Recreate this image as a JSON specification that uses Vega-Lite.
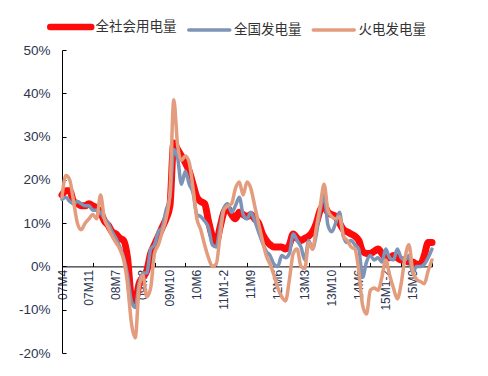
{
  "$schema": "https://vega.github.io/schema/vega-lite/v6.json",
  "width": 370,
  "height": 303,
  "autosize": {"type": "none"},
  "padding": {"left": 62, "top": 50, "right": 56, "bottom": 23},
  "background": "white",
  "config": {"view": {"stroke": null}},
  "data": {"values": [
    {"月份": "07M4", "全社会用电量": 16.5, "全国发电量": 15.5, "火电发电量": 16},
    {"月份": "07M5", "全社会用电量": 17.5, "全国发电量": 16, "火电发电量": 21},
    {"月份": "07M6", "全社会用电量": 17.5, "全国发电量": 15, "火电发电量": 20},
    {"月份": "07M7", "全社会用电量": 15, "全国发电量": 14.5, "火电发电量": 15},
    {"月份": "07M8", "全社会用电量": 14.5, "全国发电量": 15, "火电发电量": 10},
    {"月份": "07M9", "全社会用电量": 14, "全国发电量": 14.5, "火电发电量": 8.5},
    {"月份": "07M10", "全社会用电量": 14, "全国发电量": 14, "火电发电量": 10},
    {"月份": "07M11", "全社会用电量": 14.5, "全国发电量": 14, "火电发电量": 11},
    {"月份": "07M12", "全社会用电量": 14, "全国发电量": 13, "火电发电量": 12},
    {"月份": "08M1-2", "全社会用电量": 13.5, "全国发电量": 13, "火电发电量": 11},
    {"月份": "08M3", "全社会用电量": 12.5, "全国发电量": 12.5, "火电发电量": 16.5},
    {"月份": "08M4", "全社会用电量": 10.5, "全国发电量": 11, "火电发电量": 11},
    {"月份": "08M5", "全社会用电量": 9.5, "全国发电量": 10, "火电发电量": 9},
    {"月份": "08M6", "全社会用电量": 8, "全国发电量": 8, "火电发电量": 7},
    {"月份": "08M7", "全社会用电量": 7.5, "全国发电量": 6.5, "火电发电量": 5.5},
    {"月份": "08M8", "全社会用电量": 6.5, "全国发电量": 4.5, "火电发电量": 4},
    {"月份": "08M9", "全社会用电量": 6, "全国发电量": 2, "火电发电量": 1.5},
    {"月份": "08M10", "全社会用电量": 2, "全国发电量": -2, "火电发电量": -4},
    {"月份": "08M11", "全社会用电量": -7, "全国发电量": -8, "火电发电量": -13},
    {"月份": "08M12", "全社会用电量": -8, "全国发电量": -9.5, "火电发电量": -16.5},
    {"月份": "09M1-2", "全社会用电量": -4, "全国发电量": -4, "火电发电量": -5},
    {"月份": "09M3", "全社会用电量": -2.5, "全国发电量": -1.5, "火电发电量": -2},
    {"月份": "09M4", "全社会用电量": -1, "全国发电量": -1.5, "火电发电量": -7},
    {"月份": "09M5", "全社会用电量": 3, "全国发电量": 4, "火电发电量": -5},
    {"月份": "09M6", "全社会用电量": 5, "全国发电量": 5, "火电发电量": 3},
    {"月份": "09M7", "全社会用电量": 7, "全国发电量": 8, "火电发电量": 5},
    {"月份": "09M8", "全社会用电量": 9, "全国发电量": 9, "火电发电量": 8},
    {"月份": "09M9", "全社会用电量": 11, "全国发电量": 13, "火电发电量": 11},
    {"月份": "09M10", "全社会用电量": 14, "全国发电量": 16, "火电发电量": 17},
    {"月份": "09M11", "全社会用电量": 28.5, "全国发电量": 27, "火电发电量": 38.5},
    {"月份": "09M12", "全社会用电量": 27, "全国发电量": 25, "火电发电量": 28},
    {"月份": "10M1-2", "全社会用电量": 25.5, "全国发电量": 19, "火电发电量": 24.5},
    {"月份": "10M3", "全社会用电量": 24, "全国发电量": 22, "火电发电量": 25.5},
    {"月份": "10M4", "全社会用电量": 22, "全国发电量": 19, "火电发电量": 24},
    {"月份": "10M5", "全社会用电量": 19, "全国发电量": 17, "火电发电量": 18},
    {"月份": "10M6", "全社会用电量": 16, "全国发电量": 12, "火电发电量": 11},
    {"月份": "10M7", "全社会用电量": 15, "全国发电量": 11.5, "火电发电量": 8.5},
    {"月份": "10M8", "全社会用电量": 14.5, "全国发电量": 10.5, "火电发电量": 5},
    {"月份": "10M9", "全社会用电量": 10.5, "全国发电量": 9, "火电发电量": 2},
    {"月份": "10M10", "全社会用电量": 7, "全国发电量": 5, "火电发电量": 0},
    {"月份": "10M11", "全社会用电量": 5.5, "全国发电量": 4.5, "火电发电量": 0.5},
    {"月份": "10M12", "全社会用电量": 9, "全国发电量": 9, "火电发电量": 7},
    {"月份": "11M1-2", "全社会用电量": 12.5, "全国发电量": 13.5, "火电发电量": 13},
    {"月份": "11M3", "全社会用电量": 13.5, "全国发电量": 14.5, "火电发电量": 14},
    {"月份": "11M4", "全社会用电量": 12, "全国发电量": 12.5, "火电发电量": 14.5},
    {"月份": "11M5", "全社会用电量": 11, "全国发电量": 14, "火电发电量": 18},
    {"月份": "11M6", "全社会用电量": 12.5, "全国发电量": 16, "火电发电量": 19.5},
    {"月份": "11M7", "全社会用电量": 12, "全国发电量": 12, "火电发电量": 16.5},
    {"月份": "11M8", "全社会用电量": 11.5, "全国发电量": 11, "火电发电量": 19.5},
    {"月份": "11M9", "全社会用电量": 12, "全国发电量": 12.5, "火电发电量": 18},
    {"月份": "11M10", "全社会用电量": 11, "全国发电量": 10.5, "火电发电量": 14},
    {"月份": "11M11", "全社会用电量": 10, "全国发电量": 8, "火电发电量": 10},
    {"月份": "11M12", "全社会用电量": 7.5, "全国发电量": 5.5, "火电发电量": 6},
    {"月份": "12M3", "全社会用电量": 6, "全国发电量": 3.5, "火电发电量": 2.5},
    {"月份": "12M4", "全社会用电量": 5, "全国发电量": 2.5, "火电发电量": 0.5},
    {"月份": "12M5", "全社会用电量": 4.5, "全国发电量": 0.5, "火电发电量": -2},
    {"月份": "12M6", "全社会用电量": 4.5, "全国发电量": 0, "火电发电量": -5},
    {"月份": "12M7", "全社会用电量": 4.5, "全国发电量": 2.5, "火电发电量": -7},
    {"月份": "12M8", "全社会用电量": 4, "全国发电量": 2, "火电发电量": -8},
    {"月份": "12M9", "全社会用电量": 5, "全国发电量": 3, "火电发电量": -3},
    {"月份": "12M10", "全社会用电量": 7.5, "全国发电量": 7.5, "火电发电量": 3},
    {"月份": "12M11", "全社会用电量": 6.5, "全国发电量": 6, "火电发电量": 4},
    {"月份": "12M12", "全社会用电量": 6, "全国发电量": 4.5, "火电发电量": 0},
    {"月份": "13M3", "全社会用电量": 6.5, "全国发电量": 1.5, "火电发电量": -0.5},
    {"月份": "13M4", "全社会用电量": 7, "全国发电量": 6, "火电发电量": 5.5},
    {"月份": "13M5", "全社会用电量": 8, "全国发电量": 4, "火电发电量": 4},
    {"月份": "13M6", "全社会用电量": 10, "全国发电量": 7.5, "火电发电量": 9},
    {"月份": "13M7", "全社会用电量": 13, "全国发电量": 13, "火电发电量": 14},
    {"月份": "13M8", "全社会用电量": 14, "全国发电量": 16.5, "火电发电量": 19},
    {"月份": "13M9", "全社会用电量": 12.5, "全国发电量": 9.5, "火电发电量": 13},
    {"月份": "13M10", "全社会用电量": 12, "全国发电量": 8, "火电发电量": 11.5},
    {"月份": "13M11", "全社会用电量": 11.5, "全国发电量": 10, "火电发电量": 11},
    {"月份": "13M12", "全社会用电量": 10, "全国发电量": 12.5, "火电发电量": 11.5},
    {"月份": "14M1-2", "全社会用电量": 8.5, "全国发电量": 7, "火电发电量": 7},
    {"月份": "14M3", "全社会用电量": 8, "全国发电量": 5.5, "火电发电量": 6},
    {"月份": "14M4", "全社会用电量": 7.5, "全国发电量": 6, "火电发电量": 4.5},
    {"月份": "14M5", "全社会用电量": 7, "全国发电量": 5, "火电发电量": 4},
    {"月份": "14M6", "全社会用电量": 6, "全国发电量": 4, "火电发电量": -1},
    {"月份": "14M7", "全社会用电量": 3.5, "全国发电量": -2.5, "火电发电量": -9},
    {"月份": "14M8", "全社会用电量": 3, "全国发电量": 1, "火电发电量": -11},
    {"月份": "14M9", "全社会用电量": 3, "全国发电量": 2.5, "火电发电量": -5.5},
    {"月份": "14M10", "全社会用电量": 3.5, "全国发电量": 1.5, "火电发电量": -5},
    {"月份": "14M11", "全社会用电量": 4, "全国发电量": 2, "火电发电量": -5.5},
    {"月份": "14M12", "全社会用电量": 3, "全国发电量": 1, "火电发电量": -2.5},
    {"月份": "15M1-2", "全社会用电量": 2, "全国发电量": 4, "火电发电量": 1.5},
    {"月份": "15M3", "全社会用电量": 2, "全国发电量": 2, "火电发电量": -2},
    {"月份": "15M4", "全社会用电量": 2.5, "全国发电量": 1.5, "火电发电量": -5},
    {"月份": "15M5", "全社会用电量": 2, "全国发电量": 4, "火电发电量": -7.5},
    {"月份": "15M6", "全社会用电量": 1.5, "全国发电量": 2, "火电发电量": -4},
    {"月份": "15M7", "全社会用电量": 1.5, "全国发电量": 1.5, "火电发电量": 2},
    {"月份": "15M8", "全社会用电量": 1, "全国发电量": 2.5, "火电发电量": 5},
    {"月份": "15M9", "全社会用电量": 1, "全国发电量": -1.5, "火电发电量": -1},
    {"月份": "15M10", "全社会用电量": 0.5, "全国发电量": 0, "火电发电量": -3},
    {"月份": "15M11", "全社会用电量": 0.5, "全国发电量": 0, "火电发电量": -3.5},
    {"月份": "15M12", "全社会用电量": 2.5, "全国发电量": 0.5, "火电发电量": -4},
    {"月份": "16M1-2", "全社会用电量": 5.5, "全国发电量": 2, "火电发电量": -1},
    {"月份": "16M3", "全社会用电量": 5.5, "全国发电量": 4, "火电发电量": 1.5}
  ]},
  "transform": [
    {"fold": ["全社会用电量", "全国发电量", "火电发电量"], "as": ["系列", "增速"]}
  ],
  "mark": {"type": "line", "interpolate": "monotone", "strokeCap": "round", "strokeJoin": "round"},
  "encoding": {
    "x": {
      "field": "月份", "type": "nominal", "sort": null,
      "scale": {"type": "point", "padding": 0},
      "axis": {
        "title": null,
        "orient": "bottom",
        "offset": -86.6,
        "domainColor": "#000000",
        "domainWidth": 1,
        "tickColor": "#000000",
        "tickSize": -4,
        "tickOpacity": {"condition": {"test": "indexof(['07M12','08M9','09M6','10M3','10M11','11M8','12M6','13M4','13M12','14M9','15M6','16M3'], datum.value) >= 0", "value": 1}, "value": 0},
        "labelExpr": "indexof(['07M4','07M11','08M7','09M3','09M10','10M6','11M1-2','11M9','12M6','13M3','13M10','14M6','15M1-2','15M9'], datum.value) >= 0 ? datum.value : ''",
        "labelAngle": -90,
        "labelAlign": "right",
        "labelBaseline": "middle",
        "labelPadding": 7,
        "labelOverlap": false,
        "labelBound": false,
        "labelFont": "Liberation Sans",
        "labelFontSize": 12,
        "labelColor": "#2b3450",
        "grid": false
      }
    },
    "y": {
      "field": "增速", "type": "quantitative",
      "scale": {"domain": [-20, 50], "nice": false, "zero": false},
      "axis": {
        "title": null,
        "values": [-20, -10, 0, 10, 20, 30, 40, 50],
        "labelExpr": "datum.value + '%'",
        "domainColor": "#000000",
        "domainWidth": 1,
        "tickColor": "#000000",
        "tickSize": -4,
        "labelPadding": 16,
        "labelFont": "Liberation Sans",
        "labelFontSize": 13.5,
        "labelColor": "#2b3450",
        "grid": false
      }
    },
    "color": {
      "field": "系列", "type": "nominal",
      "scale": {"domain": ["全社会用电量", "全国发电量", "火电发电量"], "range": ["#ff0a0a", "#7d94b6", "#e39c7d"]},
      "legend": {
        "title": null,
        "orient": "none",
        "direction": "horizontal",
        "legendX": 2,
        "legendY": -30,
        "padding": 0,
        "offset": 0,
        "symbolType": "stroke",
        "symbolSize": 1681,
        "symbolStrokeWidth": 3.5,
        "labelOffset": 18,
        "columnPadding": 4.5,
        "labelFont": "Noto Sans CJK SC",
        "labelFontSize": 13.5,
        "labelColor": "#333333",
        "encode": {"symbols": {"update": {"strokeWidth": {"signal": "datum.value === '全社会用电量' ? 6.5 : 3.5"}, "strokeCap": {"value": "round"}}}}
      }
    },
    "strokeWidth": {
      "condition": {"test": "datum['系列'] === '全社会用电量'", "value": 7},
      "value": 3.5
    }
  }
}
